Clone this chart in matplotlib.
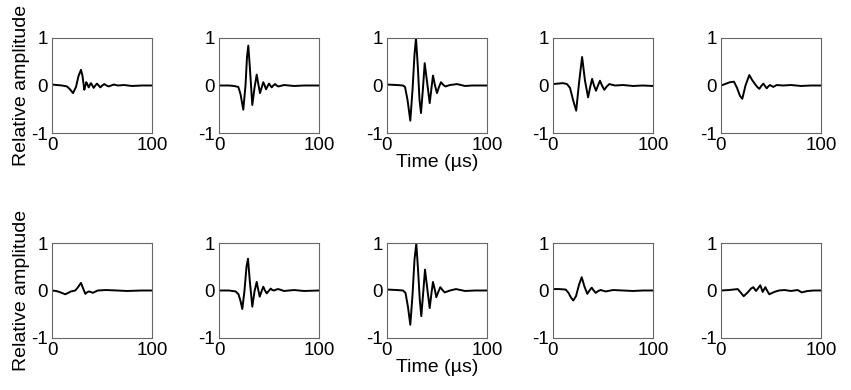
import numpy as np
import matplotlib
matplotlib.use("Agg")
import matplotlib.pyplot as plt

plt.rcParams['font.family'] = ['Liberation Sans', 'DejaVu Sans']
plt.rcParams['axes.unicode_minus'] = False

# time (us) and relative amplitude, top row then bottom row
t1 = [0, 5, 10, 15, 18, 21, 24, 26.5, 29, 30.5, 32.3, 33.3, 34.3, 35.5, 36.7, 37.8, 39, 40.3, 41.7, 43.3, 45, 46.7, 48.3, 50.3, 52.3, 54.5, 56.7, 59.2, 61.7, 66, 72, 80, 90, 100]
a1 = [0.02, 0.01, 0.0, -0.02, -0.08, -0.16, -0.03, 0.2, 0.33, 0.2, -0.09, -0.01, 0.07, 0.02, -0.04, 0.01, 0.05, 0.0, -0.05, 0.0, 0.04, 0.0, -0.04, 0.0, 0.03, 0.0, -0.02, 0.0, 0.02, 0.0, 0.01, -0.01, 0.0, 0.0]

t2 = [0, 10, 15, 19.3, 21.5, 24.3, 26.5, 28, 29.3, 30.8, 33.3, 35.5, 37.7, 39.3, 41, 42.7, 44.3, 45.7, 47, 48.5, 50, 51.3, 52.7, 54.3, 56, 57.7, 59.3, 65, 75, 85, 100]
a2 = [0.0, 0.0, -0.01, -0.03, -0.18, -0.51, 0.0, 0.6, 0.84, 0.4, -0.41, -0.05, 0.23, 0.03, -0.16, -0.04, 0.07, 0.0, -0.08, -0.02, 0.04, 0.0, -0.04, 0.0, 0.03, 0.0, -0.02, 0.01, -0.01, 0.0, 0.0]

t3 = [0, 10, 16, 18, 20.5, 23.3, 25.5, 27.5, 29, 30.8, 32.5, 34, 36, 37.7, 40.5, 42.7, 44.5, 46, 48, 50, 52, 54, 56, 58.3, 63, 70, 78, 85, 100]
a3 = [0.02, 0.01, 0.0, -0.03, -0.3, -0.74, -0.1, 0.65, 1.0, 0.4, -0.3, -0.58, -0.05, 0.47, 0.0, -0.37, -0.05, 0.21, 0.0, -0.16, -0.03, 0.07, 0.02, -0.02, 0.01, 0.03, -0.01, 0.0, 0.0]

t4 = [0, 5, 10, 14, 17, 20, 23.2, 26, 29.1, 32, 35.1, 37, 39.1, 41, 43, 45, 47, 49, 51.3, 53.8, 56.3, 62, 70, 80, 90, 100]
a4 = [0.03, 0.04, 0.05, 0.03, -0.05, -0.3, -0.53, 0.05, 0.6, 0.1, -0.25, -0.05, 0.14, 0.0, -0.11, 0.0, 0.1, 0.0, -0.09, -0.02, 0.03, 0.0, 0.01, -0.01, 0.0, -0.01]

t5 = [0, 4, 9, 13, 16, 19, 21.3, 24.5, 28.3, 31, 34, 36.2, 38.3, 40.3, 42.3, 44, 45.7, 47.3, 49, 50.7, 52.3, 54, 55.7, 62, 70, 80, 90, 100]
a5 = [0.0, 0.03, 0.07, 0.08, -0.05, -0.22, -0.28, 0.0, 0.22, 0.12, 0.03, -0.03, -0.07, -0.01, 0.04, -0.01, -0.06, -0.02, 0.01, -0.01, -0.03, -0.01, 0.01, 0.0, 0.01, -0.01, 0.0, 0.0]

t6 = [0, 4, 7.3, 13.3, 19, 23.3, 26, 29, 31, 33.3, 35, 36.7, 38.7, 40.7, 45.7, 54, 65, 75, 90, 100]
a6 = [0.0, -0.01, -0.03, -0.08, -0.02, 0.0, 0.07, 0.16, 0.05, -0.07, -0.04, -0.02, -0.03, -0.05, 0.0, 0.01, 0.0, -0.01, 0.0, 0.0]

t7 = [0, 10, 16.7, 19.5, 21.5, 23.3, 25.5, 27.5, 29, 30.8, 33.3, 35.5, 37.7, 39.2, 40.7, 42.5, 44.3, 46, 47.7, 49.7, 51.7, 53.3, 55, 57.2, 59.3, 65, 75, 85, 100]
a7 = [0.0, 0.0, -0.02, -0.08, -0.22, -0.39, 0.0, 0.5, 0.67, 0.2, -0.34, -0.02, 0.18, 0.02, -0.13, -0.02, 0.08, 0.0, -0.06, -0.01, 0.04, 0.01, 0.0, 0.02, 0.03, -0.01, 0.01, -0.01, 0.0]

t8 = [0, 10, 16, 18.5, 21, 23.3, 25.5, 27.5, 29.3, 31, 32.8, 34.3, 36, 38, 40.5, 42.7, 44.5, 46, 48, 49.3, 51.3, 53.3, 55.5, 57.7, 63, 69, 78, 88, 100]
a8 = [0.02, 0.01, 0.0, -0.05, -0.35, -0.72, -0.1, 0.65, 0.99, 0.45, -0.2, -0.54, -0.1, 0.44, 0.0, -0.37, -0.05, 0.18, 0.0, -0.14, -0.03, 0.07, 0.01, -0.04, 0.0, 0.03, -0.01, 0.0, 0.0]

t9 = [0, 6, 12.7, 15.5, 18, 20.3, 23, 26, 28.7, 31.5, 34.3, 36.5, 38.7, 40.7, 42.7, 45.2, 47.7, 52.7, 60, 70, 80, 90, 100]
a9 = [0.03, 0.03, 0.02, -0.05, -0.15, -0.21, -0.12, 0.12, 0.28, 0.08, -0.07, 0.0, 0.06, 0.0, -0.05, -0.01, 0.01, -0.02, 0.01, 0.0, -0.01, 0.0, 0.0]

t10 = [0, 8, 16.7, 20, 22.7, 26.7, 30, 32.3, 35, 37.2, 39.3, 41.7, 44.3, 46.3, 48.3, 53.3, 58, 63.3, 70, 76.7, 80.7, 86.7, 93, 100]
a10 = [0.0, 0.01, 0.03, -0.05, -0.12, -0.04, 0.04, 0.07, -0.01, 0.05, 0.11, -0.03, 0.07, -0.01, -0.08, -0.03, 0.0, 0.01, -0.01, 0.01, -0.04, -0.01, 0.0, 0.0]

traces = [(t1, a1), (t2, a2), (t3, a3), (t4, a4), (t5, a5),
          (t6, a6), (t7, a7), (t8, a8), (t9, a9), (t10, a10)]

fig = plt.figure(figsize=(8.51, 3.90), dpi=100)

lefts = [52, 219, 387, 553, 721]   # pixel left edges of the columns
tops = [38, 243]                   # pixel top edges of the rows
w, h = 100, 95

for i, (t, a) in enumerate(traces):
    row, col = divmod(i, 5)
    ax = fig.add_axes([lefts[col] / 851, 1 - (tops[row] + h) / 390, w / 851, h / 390])
    ax.plot(t, a, color='black', lw=1.4)
    ax.set_xlim(0, 100)
    ax.set_ylim(-1, 1)
    ax.set_xticks([0, 100])
    ax.set_yticks([-1, 0, 1])
    ax.tick_params(length=0, labelsize=13.5, pad=3)
    for s in ax.spines.values():
        s.set_color('0.4')
        s.set_linewidth(0.8)
    if col == 0:
        ax.set_ylabel('Relative amplitude', fontsize=14, labelpad=1)
    if col == 2:
        ax.set_xlabel('Time (µs)', fontsize=14, labelpad=0)

fig.savefig('out.png', dpi=100)
